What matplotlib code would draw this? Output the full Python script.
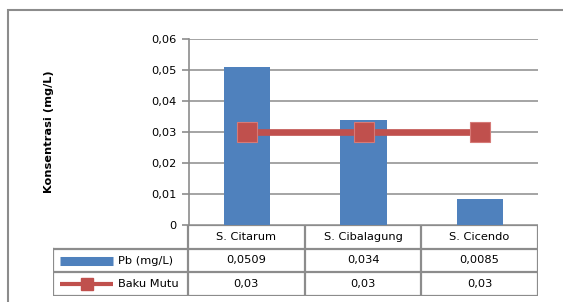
import numpy as np
import matplotlib.pyplot as plt
from matplotlib.patches import Rectangle

categories = ["S. Citarum", "S. Cibalagung", "S. Cicendo"]
pb = [0.0509, 0.034, 0.0085]
baku_mutu = [0.03, 0.03, 0.03]
pb_labels = ["0,0509", "0,034", "0,0085"]
baku_labels = ["0,03", "0,03", "0,03"]
yticks = [0, 0.01, 0.02, 0.03, 0.04, 0.05, 0.06]
ytick_labels = ["0", "0,01", "0,02", "0,03", "0,04", "0,05", "0,06"]

W, H = 563, 302
BLUE = "#4F81BD"
RED = "#C0504D"
GRID = "#8C8C8C"
FS = 8.2

fig = plt.figure(figsize=(W / 100, H / 100), dpi=100)

def px(x0, y0, x1, y1):
    # pixel box (top-left origin) -> figure fraction
    return [x0 / W, 1 - y1 / H, (x1 - x0) / W, (y1 - y0) / H]

# outer chart frame
fig.patches.append(Rectangle((8 / W, -0.05), 1.1, 1 - 10 / H + 0.05, transform=fig.transFigure,
                             fill=False, edgecolor=GRID, linewidth=1.5))

ax = fig.add_axes(px(189, 39, 538, 225))
x = np.arange(len(categories))
ax.bar(x, pb, width=0.4, color=BLUE, zorder=2)
ax.plot(x, baku_mutu, color=RED, linewidth=4.8, marker="s", markersize=14,
        markerfacecolor=RED, markeredgecolor="#D67A77", markeredgewidth=0.8, zorder=3)
ax.set_xlim(-0.5, 2.5)
ax.set_ylim(0, 0.06)
ax.set_yticks(yticks)
ax.set_yticklabels(ytick_labels, fontsize=FS)
ax.set_xticks([])
ax.grid(axis="y", color=GRID, linewidth=1.1, zorder=0)
for s in ["top", "right", "bottom"]:
    ax.spines[s].set_visible(False)
ax.spines["left"].set_color(GRID)
ax.spines["left"].set_linewidth(1.2)
ax.tick_params(axis="y", color=GRID, length=5, width=1.2, pad=4)
ax.set_ylabel("Konsentrasi (mg/L)", fontsize=FS, fontweight="bold", labelpad=70)

# data table below the plot
tab = fig.add_axes(px(53, 225, 538, 296))
left = -0.5 - 135 / (350 / 3)
tab.set_xlim(left, 2.5)
tab.set_ylim(3, 0)
tab.axis("off")
lw = 1.6
# horizontal lines
tab.plot([-0.5, 2.5], [0, 0], color=GRID, lw=lw)
for yy in [1, 2, 3]:
    tab.plot([left, 2.5], [yy, yy], color=GRID, lw=lw)
# vertical lines
tab.plot([left, left], [1, 3], color=GRID, lw=lw)
for xx in [-0.5, 0.5, 1.5, 2.5]:
    tab.plot([xx, xx], [0, 3], color=GRID, lw=lw)
rows = [categories, pb_labels, baku_labels]
for r, row in enumerate(rows):
    for c, txt in enumerate(row):
        tab.text(c, r + 0.5, txt, ha="center", va="center", fontsize=FS)
# legend keys
u = 350 / 3
kx0 = left + 7 / u
kx1 = left + 60 / u
tab.plot([kx0, kx1], [1.5, 1.5], color=BLUE, lw=6.5, solid_capstyle="butt")
tab.plot([kx0, kx1], [2.5, 2.5], color=RED, lw=3, solid_capstyle="butt")
tab.plot([(kx0 + kx1) / 2], [2.5], marker="s", color=RED, markersize=8)
tab.text(left + 65 / u, 1.5, "Pb (mg/L)", ha="left", va="center", fontsize=FS)
tab.text(left + 65 / u, 2.5, "Baku Mutu", ha="left", va="center", fontsize=FS)

fig.savefig("out.png", dpi=100)
